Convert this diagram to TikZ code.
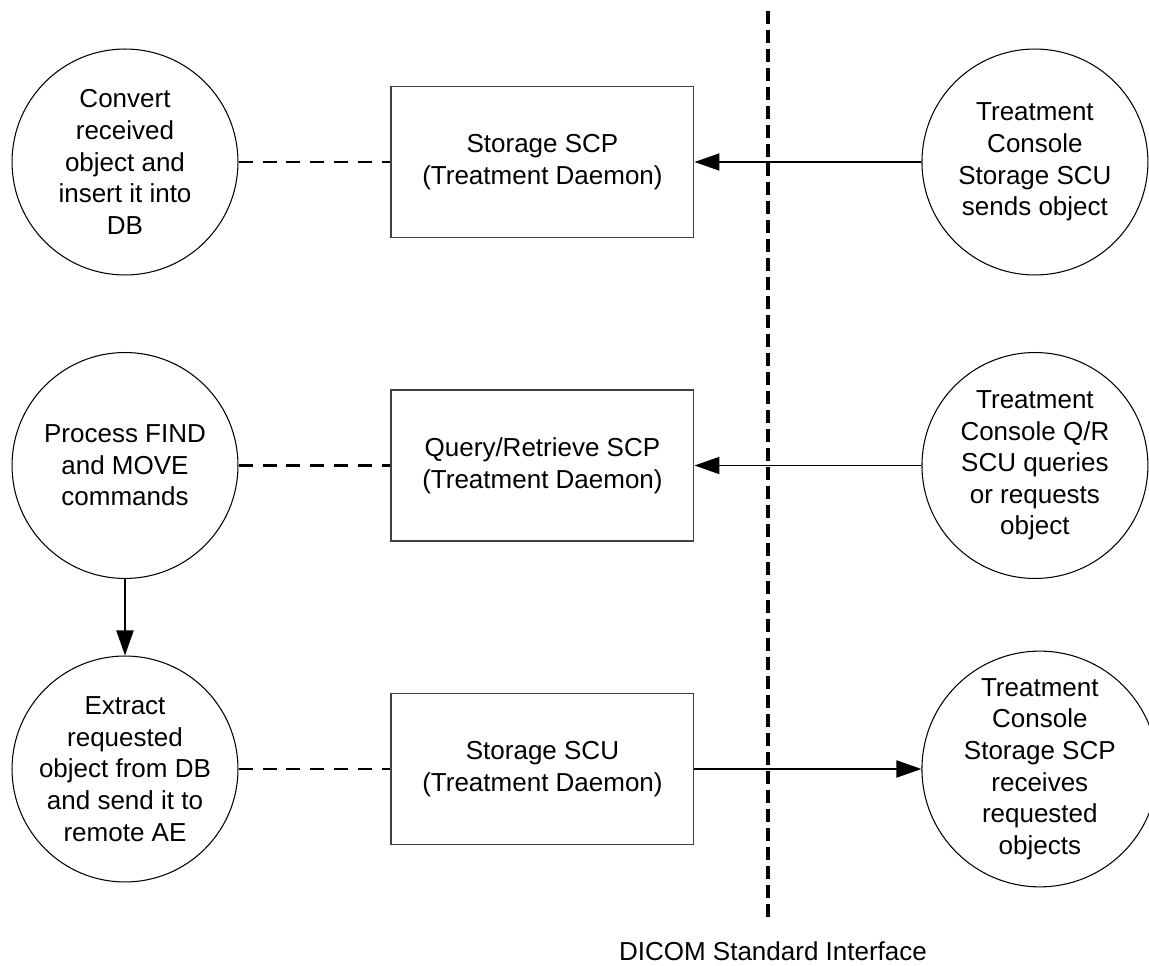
\documentclass[tikz,border=0pt]{standalone}
\usepackage{fontspec}
\setmainfont{Liberation Sans}
\usetikzlibrary{positioning,arrows.meta}

\begin{document}
\begin{tikzpicture}[align=center, x=0.02cm, y=-0.02cm,
    font=\fontsize{14.8pt}{18pt}\selectfont,
    task/.style={draw, circle, line width=0.6pt, minimum size=4.52cm, inner sep=0pt},
    daemon/.style={draw=black!75, line width=0.6pt, minimum width=6.06cm, minimum height=3.02cm},
    flow/.style={-{Triangle[length=0.5cm, width=0.34cm]}, line width=1.1pt},
    assoc/.style={line width=1.4pt, dash pattern=on 0.28cm off 0.2cm}]
    \useasboundingbox (0,0) rectangle (1149,966);

    \node [task] (convert) at (125,162) {Convert\\received\\object and\\insert it into\\DB};
    \node [task, below=1.53cm of convert] (find) {Process FIND\\and MOVE\\commands};
    \node [task, below=1.53cm of find] (extract) {Extract\\requested\\object from DB\\and send it to\\remote AE};

    \node [daemon, right=3.04cm of convert] (storescp) {Storage SCP\\(Treatment Daemon)};
    \node [daemon, right=3.04cm of find] (qrscp) {Query/Retrieve SCP\\(Treatment Daemon)};
    \node [daemon, right=3.04cm of extract] (storescu) {Storage SCU\\(Treatment Daemon)};

    \node [task, right=4.54cm of storescp] (tcstorescu) {Treatment\\Console\\Storage SCU\\sends object};
    \node [task, right=4.54cm of qrscp] (tcqrscu) {Treatment\\Console Q/R\\SCU queries\\or requests\\object};
    \node [task, right=4.54cm of storescu] (tcstorescp) {Treatment\\Console\\Storage SCP\\receives\\requested\\objects};

    \draw[assoc] (convert) -- (storescp);
    \draw[assoc] (find) -- (qrscp);
    \draw[assoc] (extract) -- (storescu);

    \draw[flow] (tcstorescu) -- (storescp);
    \draw[flow] (tcqrscu) -- (qrscp);
    \draw[flow] (storescu) -- (tcstorescp);
    \draw[flow] (find) -- (extract);

    % DICOM interface
    \coordinate (ifacetop) at (768,11);
    \coordinate (ifacebot) at (768,918);
    \draw[line width=1.9pt, dash pattern=on 0.26cm off 0.12cm] (ifacetop) -- (ifacebot);
    \node [below=0.34cm of ifacebot, xshift=0.1cm] (iface) {DICOM Standard Interface};

\end{tikzpicture}
\end{document}
